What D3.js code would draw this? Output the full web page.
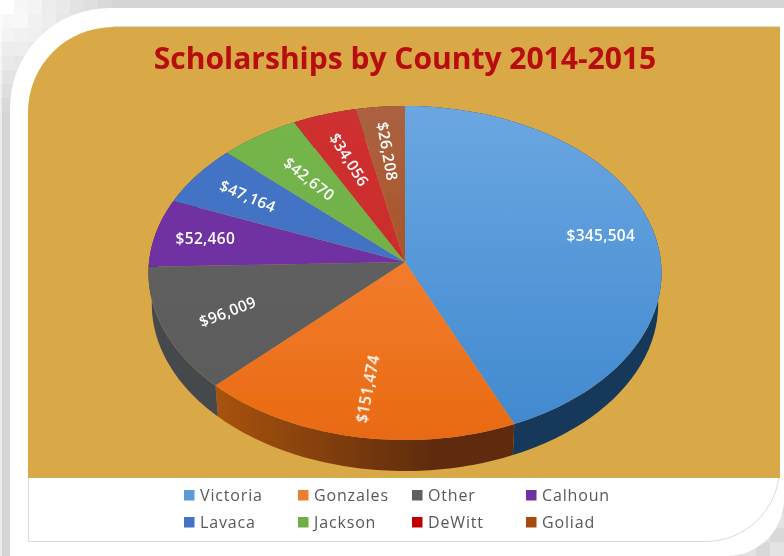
<!DOCTYPE html>
<html>
<head>
<meta charset="utf-8">
<script src="https://cdn.jsdelivr.net/npm/d3@7"></script>
<style>
  html, body { margin: 0; padding: 0; background: #fff; }
  svg { display: block; }
  text { font-family: "Open Sans", sans-serif; }
</style>
</head>
<body>
<svg id="chart"></svg>
<script>
const counties = ["Victoria", "Gonzales", "Other", "Calhoun", "Lavaca", "Jackson", "DeWitt", "Goliad"];
const amounts = [345504, 151474, 96009, 52460, 47164, 42670, 34056, 26208];
const topLight = ["#6ba7e1", "#fa8c44", "#606060", "#7030a4", "#4474c6", "#74b54c", "#cf3030", "#ab6242"];
const topDark = ["#3f88cf", "#e96a12", "#5c5c5c", "#7030a0", "#4070c0", "#70ad47", "#c62828", "#a8450c"];
const wallLight = ["#1f4468", "#a8530f", "#44484c", "#3c1a58", "#243e6c", "#3e6026", "#701616", "#5e2808"];
const wallDark = ["#17375a", "#5f2c07", "#3b3f43", "#3c1a58", "#243e6c", "#3e6026", "#701616", "#5e2808"];

// label placement, one per slice
const labelRadius = [0.79, 0.74, 0.74, 0.8, 0.75, 0.645, 0.68, 0.7];
const labelAngle = [0, -79, -21, 0, 23, 38, 58, 80];

const width = 784, height = 556;
const cx = 405, cy = 262, rx = 256, ry = 166.3;
const tilt = 0.0658; // perspective, front of the pie is bigger than the back
const depth = 31;

const svg = d3.select("#chart").attr("width", width).attr("height", height);
const defs = svg.append("defs");

defs.append("filter").attr("id", "soft")
  .append("feGaussianBlur").attr("stdDeviation", 0.35);

// Background with the blocky fade in two corners
svg.append("rect").attr("width", width).attr("height", height).attr("fill", "#d5d5d5");
svg.append("rect").attr("width", 2).attr("height", height).attr("fill", "#ececec");

const cell = 14;
const cells = [];
d3.range(0, 10).forEach((i) => {
  d3.range(0, 10).forEach((j) => {
    cells.push({ i, j });
  });
});
const fade = d3.scaleLinear().domain([0, 110]).range([1, 0]).clamp(true);
svg.append("g").selectAll("rect").data(cells).join("rect")
  .attr("x", (d) => d.i * cell)
  .attr("y", (d) => d.j * cell)
  .attr("width", cell).attr("height", cell)
  .attr("fill", "#fff")
  .attr("opacity", (d) => fade(Math.hypot(d.i, d.j) * cell) * ((d.i + d.j) % 2 ? 0.92 : 1));
svg.append("g").selectAll("rect").data(cells).join("rect")
  .attr("x", (d) => width - (d.i + 1) * cell)
  .attr("y", (d) => height - (d.j + 1) * cell)
  .attr("width", cell).attr("height", cell)
  .attr("fill", "#fff")
  .attr("opacity", (d) => ((d.i + d.j) % 2 ? 0.1 : 0.35));

// White outer panel
svg.append("path").attr("fill", "#fff")
  .attr("d", "M10,108 A100,100 0 0 1 110,8 H784 V499 A57,57 0 0 1 727,556 H10 Z");

// Gold plot area and the white legend strip under it
svg.append("path").attr("fill", "#fff").attr("stroke", "#d9d9d9")
  .attr("d", "M28.5,478 V541.5 H705 A74,74 0 0 0 779.5,470");
svg.append("path").attr("fill", "#daa947")
  .attr("d", "M28,112 A85,85 0 0 1 113,27 H780 V478 H28 Z");
svg.append("line").attr("x1", 113).attr("x2", 780).attr("y1", 26.5).attr("y2", 26.5).attr("stroke", "#dcdcdc");

svg.append("text")
  .attr("x", 405).attr("y", 69)
  .attr("text-anchor", "middle")
  .attr("fill", "#b80a0c")
  .attr("font-size", 30)
  .attr("font-weight", 700)
  .attr("filter", "url(#soft)")
  .text("Scholarships by County 2014-2015");

// Pie on a tilted plane
const project = (angle, r) => {
  const u = Math.sin(angle) * r;
  const v = -Math.cos(angle) * r;
  const w = 1 - tilt * v;
  return [cx + (rx * u) / w, cy + (ry * v) / w];
};
const arcPoints = (a0, a1) =>
  d3.range(0, 61).map((i) => project(a0 + ((a1 - a0) * i) / 60, 1));

const pie = d3.pie().sort(null).value((d) => d.amount);
const slices = pie(counties.map((name, i) => ({ name, amount: amounts[i], i })));
const line = d3.line();

counties.forEach((name, i) => {
  const top = defs.append("linearGradient").attr("id", `top${i}`)
    .attr("gradientUnits", "userSpaceOnUse")
    .attr("x1", 0).attr("x2", 0).attr("y1", 106).attr("y2", 440);
  top.append("stop").attr("offset", 0).attr("stop-color", topLight[i]);
  top.append("stop").attr("offset", 1).attr("stop-color", topDark[i]);

  const wall = defs.append("linearGradient").attr("id", `wall${i}`)
    .attr("gradientUnits", "userSpaceOnUse")
    .attr("x1", 216).attr("x2", 430).attr("y1", 0).attr("y2", 0);
  wall.append("stop").attr("offset", 0).attr("stop-color", wallLight[i]);
  wall.append("stop").attr("offset", 1).attr("stop-color", wallDark[i]);
});

const pieG = svg.append("g").attr("filter", "url(#soft)");

// Side wall first, the top face covers whatever is at the back
pieG.selectAll(".wall").data(slices).join("path")
  .attr("class", "wall")
  .attr("fill", (d) => `url(#wall${d.data.i})`)
  .attr("d", (d) => {
    const upper = arcPoints(d.startAngle, d.endAngle);
    const lower = upper.map((p) => [cx + (p[0] - cx) * 0.987, p[1] + depth]).reverse();
    return line(upper.concat(lower)) + "Z";
  });

pieG.selectAll(".slice").data(slices).join("path")
  .attr("class", "slice")
  .attr("fill", (d) => `url(#top${d.data.i})`)
  .attr("d", (d) => line([[cx, cy]].concat(arcPoints(d.startAngle, d.endAngle))) + "Z");

// Value labels
const money = d3.format("$,");
svg.append("g").attr("filter", "url(#soft)")
  .selectAll("text").data(slices).join("text")
  .attr("transform", (d) => {
    const p = project((d.startAngle + d.endAngle) / 2, labelRadius[d.data.i]);
    return `translate(${p[0]},${p[1]}) rotate(${labelAngle[d.data.i]})`;
  })
  .attr("text-anchor", "middle")
  .attr("dy", "0.35em")
  .attr("fill", "#fff")
  .attr("font-size", 15.5)
  .attr("letter-spacing", 0.3)
  .attr("font-weight", 600)
  .text((d) => money(d.data.amount));

// Legend, two rows of four
const legendX = d3.scalePoint().domain(d3.range(4)).range([184, 526]);
const legendY = d3.scalePoint().domain(d3.range(2)).range([495, 522]);
const legendColor = d3.scaleOrdinal().domain(counties)
  .range(["#5b9bd5", "#ed7d31", "#5f5f5f", "#7030a0", "#4472c4", "#70ad47", "#c00000", "#a5480f"]);

const legend = svg.append("g").attr("filter", "url(#soft)")
  .selectAll("g").data(counties).join("g")
  .attr("transform", (d, i) => `translate(${legendX(i % 4)},${legendY(Math.floor(i / 4))})`);

legend.append("rect")
  .attr("x", 0).attr("y", -5).attr("width", 10.5).attr("height", 10.5)
  .attr("fill", (d) => legendColor(d));

legend.append("text")
  .attr("x", 16).attr("dy", "0.36em")
  .attr("fill", "#595959")
  .attr("font-size", 16)
  .attr("letter-spacing", 0.85)
  .text((d) => d);
</script>
</body>
</html>
